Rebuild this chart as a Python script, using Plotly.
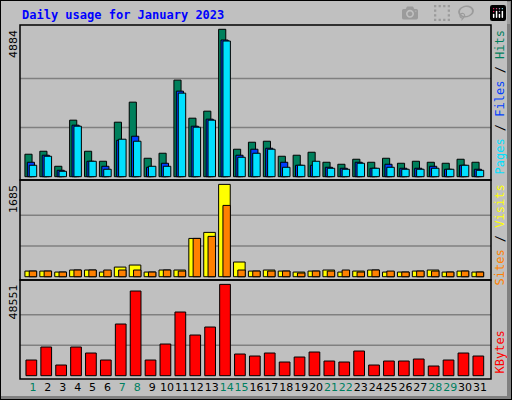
import plotly.graph_objects as go

days = list(range(1, 32))
hits = [744,843,345,1873,843,511,1806,2470,611,777,3200,1939,2171,4884,910,1142,1175,677,711,810,478,412,578,478,611,445,511,478,445,578,478]
files = [478,711,212,1707,511,345,1208,1341,312,445,2835,1673,1906,4529,711,910,943,478,379,379,312,279,478,279,412,279,279,345,246,379,246]
pages = [379,677,179,1673,511,246,1242,1175,345,345,2769,1640,1873,4496,644,777,910,312,379,511,279,246,445,279,312,246,246,279,246,379,212]
visits = [103,103,85,122,122,85,176,213,85,122,122,699,809,1685,268,103,122,103,85,103,122,85,103,122,85,85,103,122,85,103,85]
sites = [103,103,85,122,122,122,122,122,85,122,103,699,736,1301,122,103,103,103,67,103,103,122,85,122,103,85,103,103,85,103,85]
kbytes = [8329,15239,5670,15239,12050,8329,27466,45009,8329,16834,33845,21618,25871,48551,11518,10455,12050,7265,9923,12581,7797,7265,13113,5670,7797,7797,8860,5139,8329,12050,10455]
weekend = {1,7,8,14,15,21,22,28,29}
max_hits, max_visits, max_kb = 4884, 1685, 48551

W, H = 512, 400
def py(p):  # pixel y -> paper y
    return 1 - p / H
def px(p):
    return p / W

fig = go.Figure()
line = dict(color="black", width=1)
def bar(y, color, off, w, ya):
    fig.add_trace(go.Bar(x=days, y=y, offset=off, width=w, marker=dict(color=color, line=line),
                         xaxis="x", yaxis=ya, showlegend=False, hoverinfo="skip"))

bar(hits, "#00805c", -0.54, 0.48, "y")
bar(files, "#0040ff", -0.38, 0.48, "y")
bar(pages, "#00e0ff", -0.25, 0.5, "y")
bar(visits, "#ffff00", -0.54, 0.78, "y2")
bar(sites, "#ff8000", -0.25, 0.5, "y2")
bar(kbytes, "#ff0000", -0.47, 0.72, "y3")

ticktext = [f'<span style="color:{"#008060" if d in weekend else "black"}">{d}</span>' for d in days]
ax = dict(showgrid=False, zeroline=False, showticklabels=False, ticks="", fixedrange=True)
fig.update_layout(
    width=W, height=H, margin=dict(l=0, r=0, t=0, b=0),
    paper_bgcolor="#c0c0c0", plot_bgcolor="#c0c0c0", barmode="overlay",
    font=dict(family="DejaVu Sans", size=12, color="black"),
    xaxis=dict(domain=[px(20), px(491)], range=[0.13, 31.74], anchor="y3",
               tickvals=days, ticktext=ticktext, tickangle=0, showgrid=False, zeroline=False, ticks="",
               tickfont=dict(size=11, family="DejaVu Sans"), fixedrange=True),
    yaxis=dict(domain=[py(180), py(25)], range=[-110, 5027], **ax),
    yaxis2=dict(domain=[py(280), py(180)], range=[-60, 1765], **ax),
    yaxis3=dict(domain=[py(379), py(280)], range=[-1754, 50874], **ax),
)

shapes = []
for ya, vals in (("y", [max_hits/3, 2*max_hits/3]), ("y2", [max_visits/3, 2*max_visits/3]), ("y3", [max_kb/3, 2*max_kb/3])):
    for v in vals:
        shapes.append(dict(type="line", xref="paper", yref=ya, x0=px(20), x1=px(491), y0=v, y1=v,
                           line=dict(color="#808080", width=1.5), layer="below"))
for top, bot in ((25, 180), (180, 280), (280, 379)):
    shapes.append(dict(type="rect", xref="paper", yref="paper", x0=px(20), x1=px(491), y0=py(bot), y1=py(top),
                       line=dict(color="black", width=1.5)))
shapes.append(dict(type="rect", xref="paper", yref="paper", x0=px(507), x1=1, y0=0, y1=1, fillcolor="#808080", line=dict(width=0)))
shapes.append(dict(type="rect", xref="paper", yref="paper", x0=0, x1=1, y0=0, y1=py(396), fillcolor="#808080", line=dict(width=0)))
shapes.append(dict(type="rect", xref="paper", yref="paper", x0=0, x1=1, y0=0, y1=1, line=dict(color="black", width=2)))
fig.update_layout(shapes=shapes)

ann = []
ann.append(dict(text="<b>Daily usage for January 2023</b>", x=px(20), y=py(15), xref="paper", yref="paper",
                xanchor="left", yanchor="middle", showarrow=False,
                font=dict(family="DejaVu Sans Mono", size=12, color="#0000ff")))
for val, ytop in ((max_hits, 28), (max_visits, 183), (max_kb, 283)):
    ann.append(dict(text=str(val), x=px(13), y=py(ytop), xref="paper", yref="paper", textangle=-90,
                    xanchor="center", yanchor="top", showarrow=False,
                    font=dict(family="DejaVu Sans", size=11, color="black")))
mono = dict(family="DejaVu Sans Mono", size=12)
ann.append(dict(text='<span style="color:#00e0ff">Pages</span> / <span style="color:#0040ff">Files</span> / <span style="color:#00805c">Hits</span>',
                x=px(499), y=py(28), xref="paper", yref="paper", textangle=-90, xanchor="center", yanchor="top",
                showarrow=False, font=mono))
ann.append(dict(text='<span style="color:#ff8000">Sites</span> / <span style="color:#ffff00">Visits</span>',
                x=px(499), y=py(183), xref="paper", yref="paper", textangle=-90, xanchor="center", yanchor="top",
                showarrow=False, font=mono))
ann.append(dict(text='<span style="color:#ff0000">KBytes</span>',
                x=px(499), y=py(376), xref="paper", yref="paper", textangle=-90, xanchor="center", yanchor="bottom",
                showarrow=False, font=mono))
fig.update_layout(annotations=ann)

fig.write_html("out.html", post_script="document.body.style.margin='0';document.body.style.overflow='hidden';")
